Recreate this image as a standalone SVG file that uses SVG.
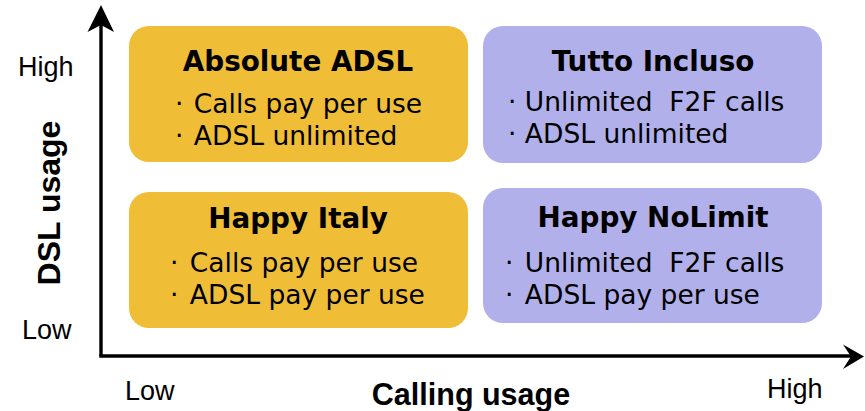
<svg xmlns="http://www.w3.org/2000/svg" width="865" height="411" viewBox="0 0 865 411">
<style>
.box-y{fill:#EFBE36}
.box-p{fill:#B1B0EA}
.title{font-family:"DejaVu Sans",Verdana,sans-serif;font-weight:bold;font-size:27.8px;fill:#000;text-anchor:middle}
.item{font-family:"DejaVu Sans",Verdana,sans-serif;font-size:26.5px;fill:#000}
.ax{font-family:"Liberation Sans",Arial,sans-serif;font-size:27px;fill:#000}
.axt{font-family:"Liberation Sans",Arial,sans-serif;font-weight:bold;fill:#000;text-anchor:middle}
.axis{stroke:#000;stroke-width:3.4;fill:none}
</style>
<rect width="865" height="411" fill="#fff"/>
<g id="connectors">
  <line class="axis" x1="101" y1="356" x2="101" y2="24"/>
  <polygon points="101,5 87.5,32 101,25 114,32" fill="#000"/>
  <line class="axis" x1="99.3" y1="356" x2="852" y2="356"/>
  <polygon points="864,356.5 843,344.5 851,356.5 843,369" fill="#000"/>
</g>
<g id="axis-labels">
  <text class="ax" x="18" y="76">High</text>
  <text class="ax" x="22" y="339">Low</text>
  <text class="ax" x="125" y="400">Low</text>
  <text class="ax" x="767" y="398">High</text>
  <text class="axt" font-size="30.5" x="471" y="405">Calling usage</text>
  <text class="axt" font-size="32" transform="translate(60,203) rotate(-90)">DSL usage</text>
</g>
<g id="absolute-adsl">
  <rect class="box-y" x="129" y="26" width="339" height="136" rx="20" ry="20"/>
  <text class="title" x="298" y="71">Absolute ADSL</text>
  <text class="item" x="175" y="113">·<tspan dx="2"> Calls pay per use</tspan></text>
  <text class="item" x="175" y="145">·<tspan dx="2"> ADSL unlimited</tspan></text>
</g>
<g id="tutto-incluso">
  <rect class="box-p" x="483" y="26" width="339" height="137" rx="20" ry="20"/>
  <text class="title" x="653" y="71">Tutto Incluso</text>
  <text class="item" x="508" y="111" xml:space="preserve">· Unlimited  F2F calls</text>
  <text class="item" x="508" y="143">· ADSL unlimited</text>
</g>
<g id="happy-italy">
  <rect class="box-y" x="129" y="192" width="339" height="136" rx="20" ry="20"/>
  <text class="title" x="298" y="228">Happy Italy</text>
  <text class="item" x="170" y="272">·<tspan dx="3"> Calls pay per use</tspan></text>
  <text class="item" x="170" y="304">·<tspan dx="3"> ADSL pay per use</tspan></text>
</g>
<g id="happy-nolimit">
  <rect class="box-p" x="483" y="188" width="339" height="135" rx="20" ry="20"/>
  <text class="title" x="653" y="227">Happy NoLimit</text>
  <text class="item" x="505" y="272" xml:space="preserve">·<tspan dx="3"> Unlimited  F2F calls</tspan></text>
  <text class="item" x="505" y="304">·<tspan dx="3"> ADSL pay per use</tspan></text>
</g>
</svg>
